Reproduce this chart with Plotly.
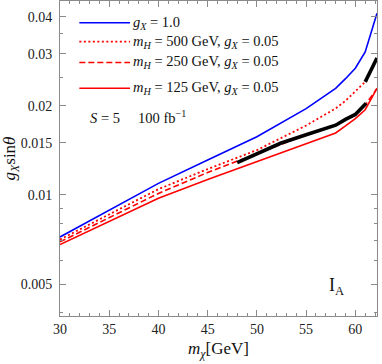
import math
import plotly.graph_objects as go

# dark-matter mass grid (GeV)
mass = [30, 35, 40, 45, 50, 55, 58, 59, 60, 61, 62.2]

# g_X sin(theta) reach curves
gx_one = [0.00721, 0.00888, 0.01094, 0.01312, 0.01573, 0.01956, 0.0229, 0.0247, 0.0268, 0.0304, 0.0411]
mh500 = [0.00707, 0.00860, 0.01046, 0.01223, 0.01417, 0.01716, 0.0196, 0.0208, 0.0224, 0.0241, 0.0290]
mh250 = [0.00694, 0.00838, 0.01012, 0.01191, 0.01376, 0.01597, 0.0172, 0.0180, 0.0187, 0.0201, 0.0229]
mh125 = [0.00680, 0.00814, 0.00975, 0.01127, 0.01293, 0.01487, 0.0162, 0.0171, 0.0181, 0.0194, 0.0229]

# highlighted (black) segments
hl1_mass = [48, 50, 52.4, 55, 57.5, 58, 59, 60, 61.1]
hl1_val = [0.01285, 0.01376, 0.01495, 0.01597, 0.01701, 0.0172, 0.0180, 0.0187, 0.0204]
hl2_mass = [61.0, 62.2]
hl2_val = [0.0241, 0.0290]

x_ticks = [30, 35, 40, 45, 50, 55, 60]
y_ticks = [0.005, 0.01, 0.015, 0.02, 0.03, 0.04]
y_ticklabels = ["0.005", "0.01", "0.015", "0.02", "0.03", "0.04"]
y_minor = [0.004, 0.006, 0.007, 0.008, 0.009, 0.025, 0.035]

legend_labels = [
    "<i>g</i><sub><i>X</i></sub> = 1.0",
    "<i>m</i><sub><i>H</i></sub> = 500 GeV, <i>g</i><sub><i>X</i></sub> = 0.05",
    "<i>m</i><sub><i>H</i></sub> = 250 GeV, <i>g</i><sub><i>X</i></sub> = 0.05",
    "<i>m</i><sub><i>H</i></sub> = 125 GeV, <i>g</i><sub><i>X</i></sub> = 0.05",
]

RED = "#ff0000"
BLUE = "#0000ff"
FONT = "Liberation Serif"

fig = go.Figure()
fig.add_trace(go.Scatter(x=mass, y=gx_one, mode="lines", line=dict(color=BLUE, width=1.6), showlegend=False))
fig.add_trace(go.Scatter(x=mass, y=mh500, mode="lines", line=dict(color=RED, width=1.8, dash="2px,2.5px"), showlegend=False))
fig.add_trace(go.Scatter(x=mass, y=mh250, mode="lines", line=dict(color=RED, width=1.6, dash="6px,3px"), showlegend=False))
fig.add_trace(go.Scatter(x=mass, y=mh125, mode="lines", line=dict(color=RED, width=1.6), showlegend=False))
fig.add_trace(go.Scatter(x=hl1_mass, y=hl1_val, mode="lines", line=dict(color="black", width=3.6), showlegend=False))
fig.add_trace(go.Scatter(x=hl2_mass, y=hl2_val, mode="lines", line=dict(color="black", width=3.6), showlegend=False))

# manual legend
styles = [dict(color=BLUE, width=1.6), dict(color=RED, width=1.8, dash="2px,2.5px"),
          dict(color=RED, width=1.6, dash="6px,3px"), dict(color=RED, width=1.6)]
rows_y = [0.931, 0.871, 0.805, 0.723]
shapes = []
annotations = []
for lab, st, yy in zip(legend_labels, styles, rows_y):
    shapes.append(dict(type="line", xref="paper", yref="paper", x0=0.061, x1=0.221, y0=yy, y1=yy, line=st))
    annotations.append(dict(xref="paper", yref="paper", x=0.224, y=yy, text=lab, showarrow=False,
                            xanchor="left", yanchor="middle", font=dict(family=FONT, size=14.5, color="#111")))

annotations.append(dict(xref="paper", yref="paper", x=0.089, y=0.632,
                        text="<i>S</i> = 5     100 fb<sup>−1</sup>", showarrow=False,
                        xanchor="left", yanchor="middle", font=dict(family=FONT, size=14.5, color="#111")))
annotations.append(dict(xref="paper", yref="paper", x=0.843, y=0.094, text="I<sub>A</sub>", showarrow=False,
                        xanchor="left", yanchor="middle", font=dict(family=FONT, size=18, color="#111")))

axcol = "#8a8a8a"
fig.update_layout(
    width=382, height=364,
    margin=dict(l=60, r=5, t=1, b=48),
    paper_bgcolor="white", plot_bgcolor="white",
    font=dict(family=FONT, size=14, color="#222"),
    shapes=shapes, annotations=annotations,
    xaxis=dict(
        range=[30, 62.2], tickmode="array", tickvals=x_ticks, automargin=False,
        ticks="inside", ticklen=6, tickwidth=1, tickcolor=axcol,
        showline=True, linecolor=axcol, linewidth=1, mirror="ticks",
        showgrid=False, zeroline=False,
        minor=dict(dtick=1, ticks="inside", ticklen=3, tickcolor=axcol, showgrid=False),
        tickfont=dict(family=FONT, size=14, color="#222"),
        title=dict(text="<i>m</i><sub><i>χ</i></sub>[GeV]", font=dict(family=FONT, size=17, color="#111"), standoff=6),
    ),
    yaxis=dict(
        type="log", range=[math.log10(0.0039), math.log10(0.0452)], automargin=False,
        tickmode="array", tickvals=y_ticks, ticktext=y_ticklabels,
        ticks="inside", ticklen=6, tickwidth=1, tickcolor=axcol,
        showline=True, linecolor=axcol, linewidth=1, mirror="ticks",
        showgrid=False, zeroline=False,
        minor=dict(tickmode="array", tickvals=y_minor, ticks="inside", ticklen=3, tickcolor=axcol, showgrid=False),
        tickfont=dict(family=FONT, size=14, color="#222"),
        ticklabelstandoff=4,
        title=dict(text="<i>g</i><sub><i>X</i></sub>sin<i>θ</i>", font=dict(family=FONT, size=17, color="#111"), standoff=2),
    ),
)

fig.write_html("out.html", config={"displayModeBar": False},
               post_script="document.body.style.margin='0';document.body.style.overflow='hidden';")
